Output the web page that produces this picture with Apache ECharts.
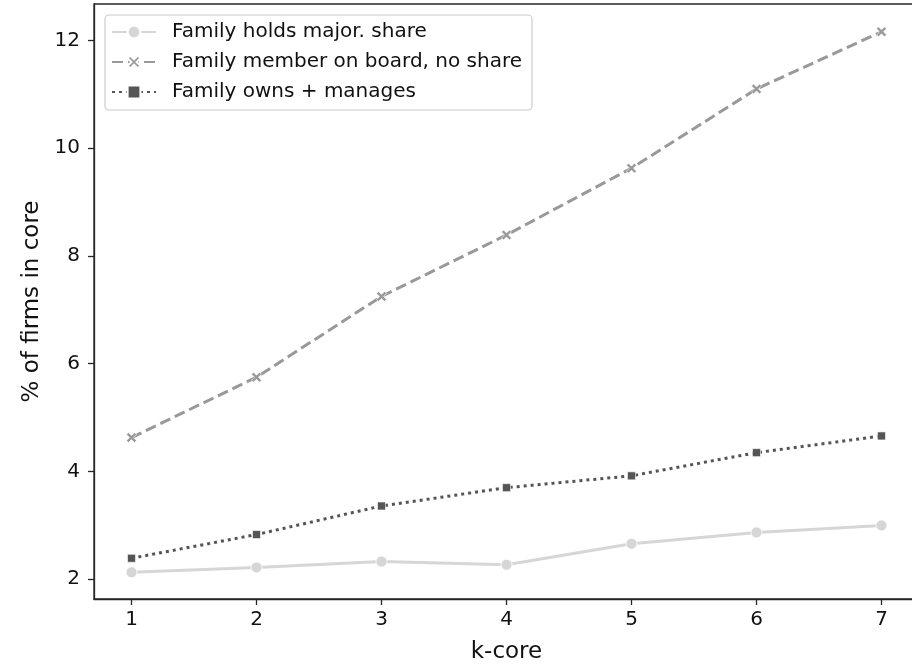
<!DOCTYPE html>
<html>
<head>
<meta charset="utf-8">
<script src="https://cdn.jsdelivr.net/npm/echarts@6/dist/echarts.min.js"></script>
<style>html,body{margin:0;padding:0;background:#fff;overflow:hidden;}#c{width:912px;height:665px;}</style>
</head>
<body>
<div id="c"></div>
<script>
const kcore = [1, 2, 3, 4, 5, 6, 7];
const xTicks = [1, 2, 3, 4, 5, 6, 7];
const yTicks = [2, 4, 6, 8, 10, 12];
const seriesNames = ['Family holds major. share', 'Family member on board, no share', 'Family owns + manages'];
const majorShare = [2.13, 2.22, 2.33, 2.27, 2.66, 2.87, 3.00];
const boardNoShare = [4.63, 5.75, 7.25, 8.39, 9.63, 11.10, 12.16];
const ownsManages = [2.39, 2.83, 3.36, 3.70, 3.92, 4.35, 4.66];

const FONT = 'DejaVu Sans';
const X_PATH = 'path://M0,2L2,0L5,3L8,0L10,2L7,5L10,8L8,10L5,7L2,10L0,8L3,5Z';

function pts(vals) { return kcore.map((k, i) => [k, vals[i]]); }

const chart = echarts.init(document.getElementById('c'), null, {renderer: 'canvas'});
chart.setOption({
  animation: false,
  backgroundColor: '#fff',
  grid: {left: 94, right: -7, top: 4, bottom: 66, outerBoundsMode: 'none', containLabel: false,
         show: true, borderColor: '#262626', borderWidth: 1.3, backgroundColor: 'transparent'},
  legend: {
    orient: 'vertical', left: 105, top: 15,
    padding: [7, 10, 8, 6],
    backgroundColor: '#fff',
    borderColor: '#cccccc', borderWidth: 1.2, borderRadius: 4,
    itemWidth: 44, itemHeight: 16, itemGap: 10,
    textStyle: {fontFamily: FONT, fontSize: 20, color: '#111', lineHeight: 20, padding: [0, 0, 0, 11]},
    data: seriesNames
  },
  xAxis: {
    type: 'value', min: 0.7, max: 7.3,
    name: 'k-core', nameLocation: 'middle', nameGap: 42,
    nameTextStyle: {fontFamily: FONT, fontSize: 23, color: '#111'},
    axisLine: {show: true, onZero: false, lineStyle: {color: '#262626', width: 1.3}},
    axisTick: {show: true, length: 6, lineStyle: {color: '#262626', width: 1.3}, customValues: xTicks},
    axisLabel: {fontFamily: FONT, fontSize: 20, color: '#111', margin: 11, customValues: xTicks},
    splitLine: {show: false}
  },
  yAxis: {
    type: 'value', min: 1.634, max: 12.676,
    name: '% of firms in core', nameLocation: 'middle', nameGap: 46,
    nameTextStyle: {fontFamily: FONT, fontSize: 23, color: '#111'},
    axisLine: {show: true, onZero: false, lineStyle: {color: '#262626', width: 1.3}},
    axisTick: {show: true, length: 6, lineStyle: {color: '#262626', width: 1.3}, customValues: yTicks},
    axisLabel: {fontFamily: FONT, fontSize: 20, color: '#111', margin: 14, customValues: yTicks},
    splitLine: {show: false}
  },
  series: [
    {
      name: seriesNames[0], type: 'line', data: pts(majorShare),
      symbol: 'circle', symbolSize: 11,
      lineStyle: {color: '#d6d6d6', width: 3},
      itemStyle: {color: '#d6d6d6', borderColor: '#fff', borderWidth: 0.8},
      z: 2
    },
    {
      name: seriesNames[1], type: 'line', data: pts(boardNoShare),
      symbol: X_PATH, symbolSize: 10,
      lineStyle: {color: '#999999', width: 3, type: [11, 5]},
      itemStyle: {color: '#999999', borderColor: '#fff', borderWidth: 0.6},
      z: 3
    },
    {
      name: seriesNames[2], type: 'line', data: pts(ownsManages),
      symbol: 'rect', symbolSize: 8,
      lineStyle: {color: '#555555', width: 3, type: [3, 4]},
      itemStyle: {color: '#555555', borderColor: '#fff', borderWidth: 0.6},
      z: 4
    }
  ]
});
</script>
</body>
</html>
